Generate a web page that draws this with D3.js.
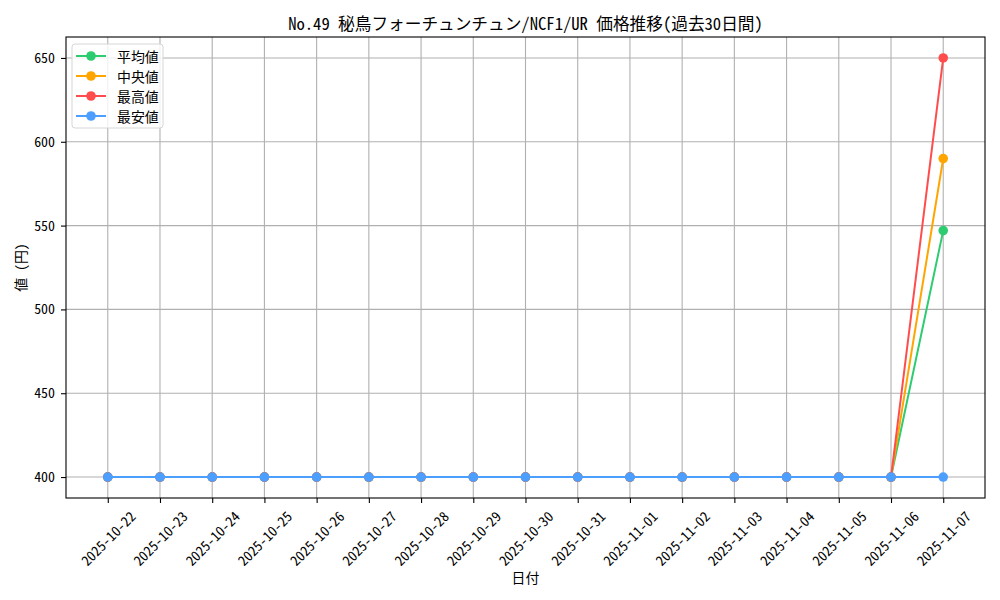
<!DOCTYPE html>
<html>
<head>
<meta charset="utf-8">
<script src="https://cdn.jsdelivr.net/npm/d3@7"></script>
<style>
  body { margin: 0; background: #fff; }
  text { font-family: "Noto Sans Mono CJK JP", "Noto Sans CJK JP", "DejaVu Sans Mono", monospace; fill: #000; }
</style>
</head>
<body>
<svg id="chart" width="1000" height="600"></svg>
<script>
// dates on the x axis
const dates = [
  "2025-10-22", "2025-10-23", "2025-10-24", "2025-10-25", "2025-10-26",
  "2025-10-27", "2025-10-28", "2025-10-29", "2025-10-30", "2025-10-31",
  "2025-11-01", "2025-11-02", "2025-11-03", "2025-11-04", "2025-11-05",
  "2025-11-06", "2025-11-07"
];
// price series (yen)
const avgValues = [400, 400, 400, 400, 400, 400, 400, 400, 400, 400, 400, 400, 400, 400, 400, 400, 547];
const medValues = [400, 400, 400, 400, 400, 400, 400, 400, 400, 400, 400, 400, 400, 400, 400, 400, 590];
const maxValues = [400, 400, 400, 400, 400, 400, 400, 400, 400, 400, 400, 400, 400, 400, 400, 400, 650];
const minValues = [400, 400, 400, 400, 400, 400, 400, 400, 400, 400, 400, 400, 400, 400, 400, 400, 400];
const seriesNames = ["平均値", "中央値", "最高値", "最安値"];
const seriesColors = ["#2ecc71", "#ffa500", "#ff4d4d", "#4d9fff"];
const yTicks = [400, 450, 500, 550, 600, 650];

const series = seriesNames.map((name, i) => ({
  name, color: seriesColors[i],
  values: [avgValues, medValues, maxValues, minValues][i]
}));

const svg = d3.select("#chart");
const plotL = 66, plotR = 985, plotT = 37, plotB = 498;
const fsSmall = 13.9, fsTitle = 16.67;
const markR = 4.8;

const x = d3.scaleLinear().domain([-0.8, dates.length - 1 + 0.8]).range([plotL, plotR]);
const allVals = [].concat(avgValues, medValues, maxValues, minValues);
const lo = d3.min(allVals), hi = d3.max(allVals), pad = (hi - lo) * 0.05;
const y = d3.scaleLinear().domain([lo - pad, hi + pad]).range([plotB, plotT]);

// grid
const grid = svg.append("g");
grid.selectAll("line.vx").data(dates).enter().append("line")
  .attr("x1", (d, i) => x(i)).attr("x2", (d, i) => x(i))
  .attr("y1", plotT).attr("y2", plotB)
  .attr("stroke", "#b0b0b0").attr("stroke-width", 1.1);
grid.selectAll("line.hy").data(yTicks).enter().append("line")
  .attr("x1", plotL).attr("x2", plotR)
  .attr("y1", d => y(d)).attr("y2", d => y(d))
  .attr("stroke", "#b0b0b0").attr("stroke-width", 1.1);

// axes
const xAxis = svg.append("g")
  .attr("transform", `translate(0,${plotB})`)
  .call(d3.axisBottom(x).tickValues(d3.range(dates.length)).tickFormat("").tickSize(5).tickSizeOuter(0));
xAxis.select(".domain").remove();
xAxis.selectAll(".tick line").attr("stroke", "#000").attr("stroke-width", 1.1);

svg.append("g").selectAll("text").data(dates).enter().append("text")
  .attr("transform", (d, i) => `translate(${x(i)},538) rotate(-45)`)
  .attr("text-anchor", "middle")
  .attr("dominant-baseline", "central")
  .attr("font-size", fsSmall)
  .text(d => d);

const yAxis = svg.append("g")
  .attr("transform", `translate(${plotL},0)`)
  .call(d3.axisLeft(y).tickValues(yTicks).tickSize(5).tickPadding(6).tickSizeOuter(0));
yAxis.select(".domain").remove();
yAxis.selectAll(".tick line").attr("stroke", "#000").attr("stroke-width", 1.1);
yAxis.selectAll(".tick text").attr("font-size", fsSmall)
  .attr("font-family", null).attr("fill", "#000");

// lines + markers
const line = d3.line().x((d, i) => x(i)).y(d => y(d));
series.forEach(s => {
  const g = svg.append("g");
  g.append("path").datum(s.values)
    .attr("d", line).attr("fill", "none")
    .attr("stroke", s.color).attr("stroke-width", 2);
  g.selectAll("circle").data(s.values).enter().append("circle")
    .attr("cx", (d, i) => x(i)).attr("cy", d => y(d))
    .attr("r", markR).attr("fill", s.color);
});

// frame
svg.append("rect")
  .attr("x", plotL).attr("y", plotT)
  .attr("width", plotR - plotL).attr("height", plotB - plotT)
  .attr("fill", "none").attr("stroke", "#000").attr("stroke-width", 1.1);

// title and labels
svg.append("text").attr("x", (plotL + plotR) / 2).attr("y", 30)
  .attr("text-anchor", "middle").attr("font-size", fsTitle)
  .text("No.49 秘鳥フォーチュンチュン/NCF1/UR 価格推移(過去30日間)");
svg.append("text").attr("x", (plotL + plotR) / 2).attr("y", 583)
  .attr("text-anchor", "middle").attr("font-size", fsSmall).text("日付");
svg.append("text").attr("transform", `translate(26,${(plotT + plotB) / 2}) rotate(-90)`)
  .attr("text-anchor", "middle").attr("font-size", fsSmall).text("値 (円)");

// legend
const legend = svg.append("g");
legend.append("rect")
  .attr("x", 72).attr("y", 44).attr("width", 91).attr("height", 84)
  .attr("rx", 3).attr("fill", "#fff").attr("fill-opacity", 0.8)
  .attr("stroke", "#d6d6d6").attr("stroke-width", 1);
const rows = legend.selectAll("g.row").data(series).enter().append("g")
  .attr("transform", (d, i) => `translate(0,${56 + i * 20})`);
rows.append("line").attr("x1", 76).attr("x2", 106)
  .attr("stroke", d => d.color).attr("stroke-width", 2);
rows.append("circle").attr("cx", 91).attr("r", markR).attr("fill", d => d.color);
rows.append("text").attr("x", 117).attr("dominant-baseline", "central")
  .attr("font-size", fsSmall).text(d => d.name);
</script>
</body>
</html>
